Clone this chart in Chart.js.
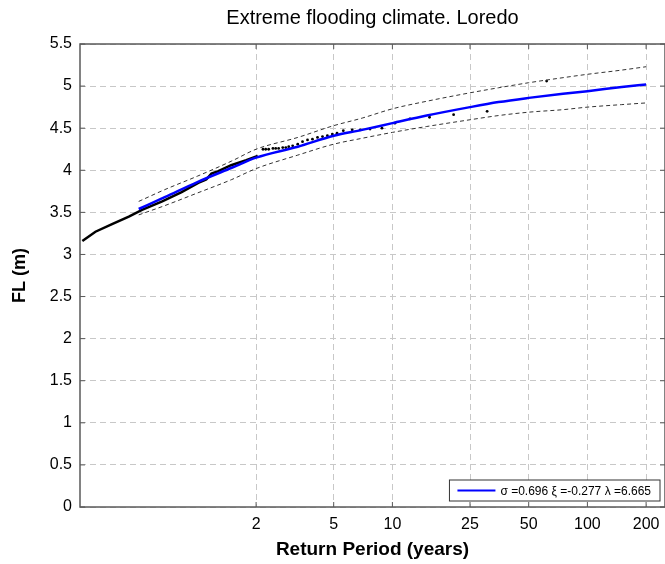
<!DOCTYPE html>
<html>
<head>
<meta charset="utf-8">
<script src="https://cdn.jsdelivr.net/npm/chart.js@4.4.0/dist/chart.umd.min.js"></script>
<style>
  html, body { margin: 0; padding: 0; background: #fff; overflow: hidden; }
</style>
</head>
<body>
<!-- 4px wider than the window: chart.js keeps a small right gap, this pushes the box edge to the window edge -->
<canvas id="flood-chart" width="669" height="564"></canvas>
<script>
// fitted GPD return level curve + confidence band
const fitPeriod = [0.5, 0.68, 1, 1.5, 2, 3.27, 5, 7, 10, 15, 25, 35, 50, 75, 100, 150, 200];
const fitLevel  = [3.54, 3.68, 3.86, 4.03, 4.15, 4.28, 4.41, 4.48, 4.56, 4.65, 4.75, 4.81, 4.86, 4.91, 4.94, 4.99, 5.02];
const upperBand = [3.63, 3.77, 3.93, 4.11, 4.25, 4.39, 4.53, 4.62, 4.73, 4.82, 4.92, 4.98, 5.04, 5.10, 5.14, 5.19, 5.23];
const lowerBand = [3.47, 3.58, 3.73, 3.89, 4.02, 4.18, 4.31, 4.38, 4.45, 4.52, 4.60, 4.65, 4.69, 4.72, 4.75, 4.78, 4.80];

// observed peaks, dense part (looks like a thick line)
const obsPeriodDense = [0.257, 0.30, 0.365, 0.445, 0.52, 0.66, 0.83, 1.01, 1.11, 1.18, 1.28, 1.49, 1.78, 2.04];
const obsLevelDense  = [3.16, 3.27, 3.36, 3.45, 3.53, 3.63, 3.74, 3.85, 3.89, 3.96, 3.99, 4.06, 4.12, 4.17];

// observed peaks, sparse tail (single dots)
const obsPeriodDots = [2.17, 2.24, 2.32, 2.44, 2.52, 2.61, 2.74, 2.84, 2.94, 3.08, 3.27, 3.46, 3.67, 3.89, 4.13, 4.38, 4.64, 4.92, 5.20, 5.60, 6.22, 6.83, 7.68, 8.84, 10.3, 12.3, 15.5, 20.6, 30.6, 61.8];
const obsLevelDots  = [4.25, 4.25, 4.25, 4.26, 4.26, 4.26, 4.27, 4.27, 4.28, 4.29, 4.31, 4.34, 4.36, 4.37, 4.39, 4.40, 4.41, 4.43, 4.44, 4.47, 4.48, 4.48, 4.49, 4.50, 4.56, 4.61, 4.63, 4.66, 4.70, 5.06];

const periodTicks = [2, 5, 10, 25, 50, 100, 200];
const legendText = "\u03c3 =0.696 \u03be =-0.277 \u03bb =6.665";

const FONT = "'Liberation Sans', Arial, sans-serif";

function pts(xs, ys) {
    return xs.map((x, i) => ({ x: x, y: ys[i] }));
}

// matlab style box, inward ticks and the little legend
const boxPlugin = {
    id: "matlabBox",
    afterDraw(chart) {
        const ctx = chart.ctx;
        const a = chart.chartArea;
        const xs = chart.scales.x;
        const ys = chart.scales.y;
        ctx.save();
        ctx.strokeStyle = "#5a5a5a";
        ctx.lineWidth = 1.5;
        ctx.strokeRect(a.left, a.top, a.right - a.left, a.bottom - a.top);

        ctx.lineWidth = 1;
        ctx.beginPath();
        periodTicks.forEach(v => {
            const px = xs.getPixelForValue(v);
            ctx.moveTo(px, a.bottom); ctx.lineTo(px, a.bottom - 5);
            ctx.moveTo(px, a.top); ctx.lineTo(px, a.top + 5);
        });
        ys.ticks.forEach(t => {
            const py = ys.getPixelForValue(t.value);
            ctx.moveTo(a.left, py); ctx.lineTo(a.left + 5, py);
            ctx.moveTo(a.right, py); ctx.lineTo(a.right - 5, py);
        });
        ctx.stroke();

        // legend
        ctx.font = "12px " + FONT;
        const tw = ctx.measureText(legendText).width;
        const h = 21;
        const w = tw + 60;
        const x0 = a.right - 5 - w;
        const y0 = a.bottom - 6 - h;
        ctx.fillStyle = "#fff";
        ctx.fillRect(x0, y0, w, h);
        ctx.strokeStyle = "#333";
        ctx.strokeRect(x0, y0, w, h);
        ctx.strokeStyle = "#0000ff";
        ctx.lineWidth = 2;
        ctx.beginPath();
        ctx.moveTo(x0 + 8, y0 + h / 2);
        ctx.lineTo(x0 + 46, y0 + h / 2);
        ctx.stroke();
        ctx.fillStyle = "#000";
        ctx.textBaseline = "middle";
        ctx.fillText(legendText, x0 + 51, y0 + h / 2 + 1);
        ctx.restore();
    }
};

const ctx = document.getElementById("flood-chart").getContext("2d");

new Chart(ctx, {
    type: "scatter",
    data: {
        datasets: [
            {
                label: "upper",
                data: pts(fitPeriod, upperBand),
                showLine: true,
                borderColor: "#333",
                borderWidth: 1,
                borderDash: [4, 3],
                pointRadius: 0,
                cubicInterpolationMode: "monotone"
            },
            {
                label: "lower",
                data: pts(fitPeriod, lowerBand),
                showLine: true,
                borderColor: "#333",
                borderWidth: 1,
                borderDash: [4, 3],
                pointRadius: 0,
                cubicInterpolationMode: "monotone"
            },
            {
                label: "fit",
                data: pts(fitPeriod, fitLevel),
                showLine: true,
                borderColor: "#0000ff",
                borderWidth: 2.5,
                pointRadius: 0,
                cubicInterpolationMode: "monotone"
            },
            {
                label: "observed",
                data: pts(obsPeriodDense, obsLevelDense),
                showLine: true,
                borderColor: "#000",
                borderWidth: 2.5,
                pointRadius: 0
            },
            {
                label: "observed tail",
                data: pts(obsPeriodDots, obsLevelDots),
                showLine: false,
                backgroundColor: "#000",
                borderWidth: 0,
                pointRadius: 1.4
            }
        ]
    },
    options: {
        responsive: false,
        animation: false,
        layout: {
            padding: { left: 0, right: 1, top: 0, bottom: 0 }
        },
        plugins: {
            legend: { display: false },
            tooltip: { enabled: false },
            title: {
                display: true,
                fullSize: false,
                text: "Extreme flooding climate. Loredo",
                color: "#000",
                font: { family: FONT, size: 20, weight: "normal" },
                padding: { top: 6, bottom: 14 }
            }
        },
        scales: {
            x: {
                type: "logarithmic",
                min: 0.25,
                max: 250,
                afterBuildTicks: scale => {
                    scale.ticks = periodTicks.map(v => ({ value: v }));
                },
                afterFit: scale => {
                    scale.height = 57;
                    scale.paddingRight = 0;
                },
                ticks: {
                    autoSkip: false,
                    maxRotation: 0,
                    padding: 8,
                    color: "#000",
                    font: { family: FONT, size: 16 },
                    callback: v => String(v)
                },
                grid: {
                    color: "#c8c8c8",
                    drawTicks: false
                },
                border: { display: false, dash: [6, 4] },
                title: {
                    display: true,
                    text: "Return Period (years)",
                    color: "#000",
                    font: { family: FONT, size: 19, weight: "bold" },
                    padding: { top: 0, bottom: 3 }
                }
            },
            y: {
                min: 0,
                max: 5.5,
                afterFit: scale => { scale.width = 80; },
                ticks: {
                    stepSize: 0.5,
                    padding: 8,
                    color: "#000",
                    font: { family: FONT, size: 16 },
                    callback: v => String(v)
                },
                grid: {
                    color: "#c8c8c8",
                    drawTicks: false
                },
                border: { display: false, dash: [6, 4] },
                title: {
                    display: true,
                    text: "FL (m)",
                    color: "#000",
                    font: { family: FONT, size: 18, weight: "bold" },
                    padding: { top: 9, bottom: 0 }
                }
            }
        }
    },
    plugins: [boxPlugin]
});
</script>
</body>
</html>
